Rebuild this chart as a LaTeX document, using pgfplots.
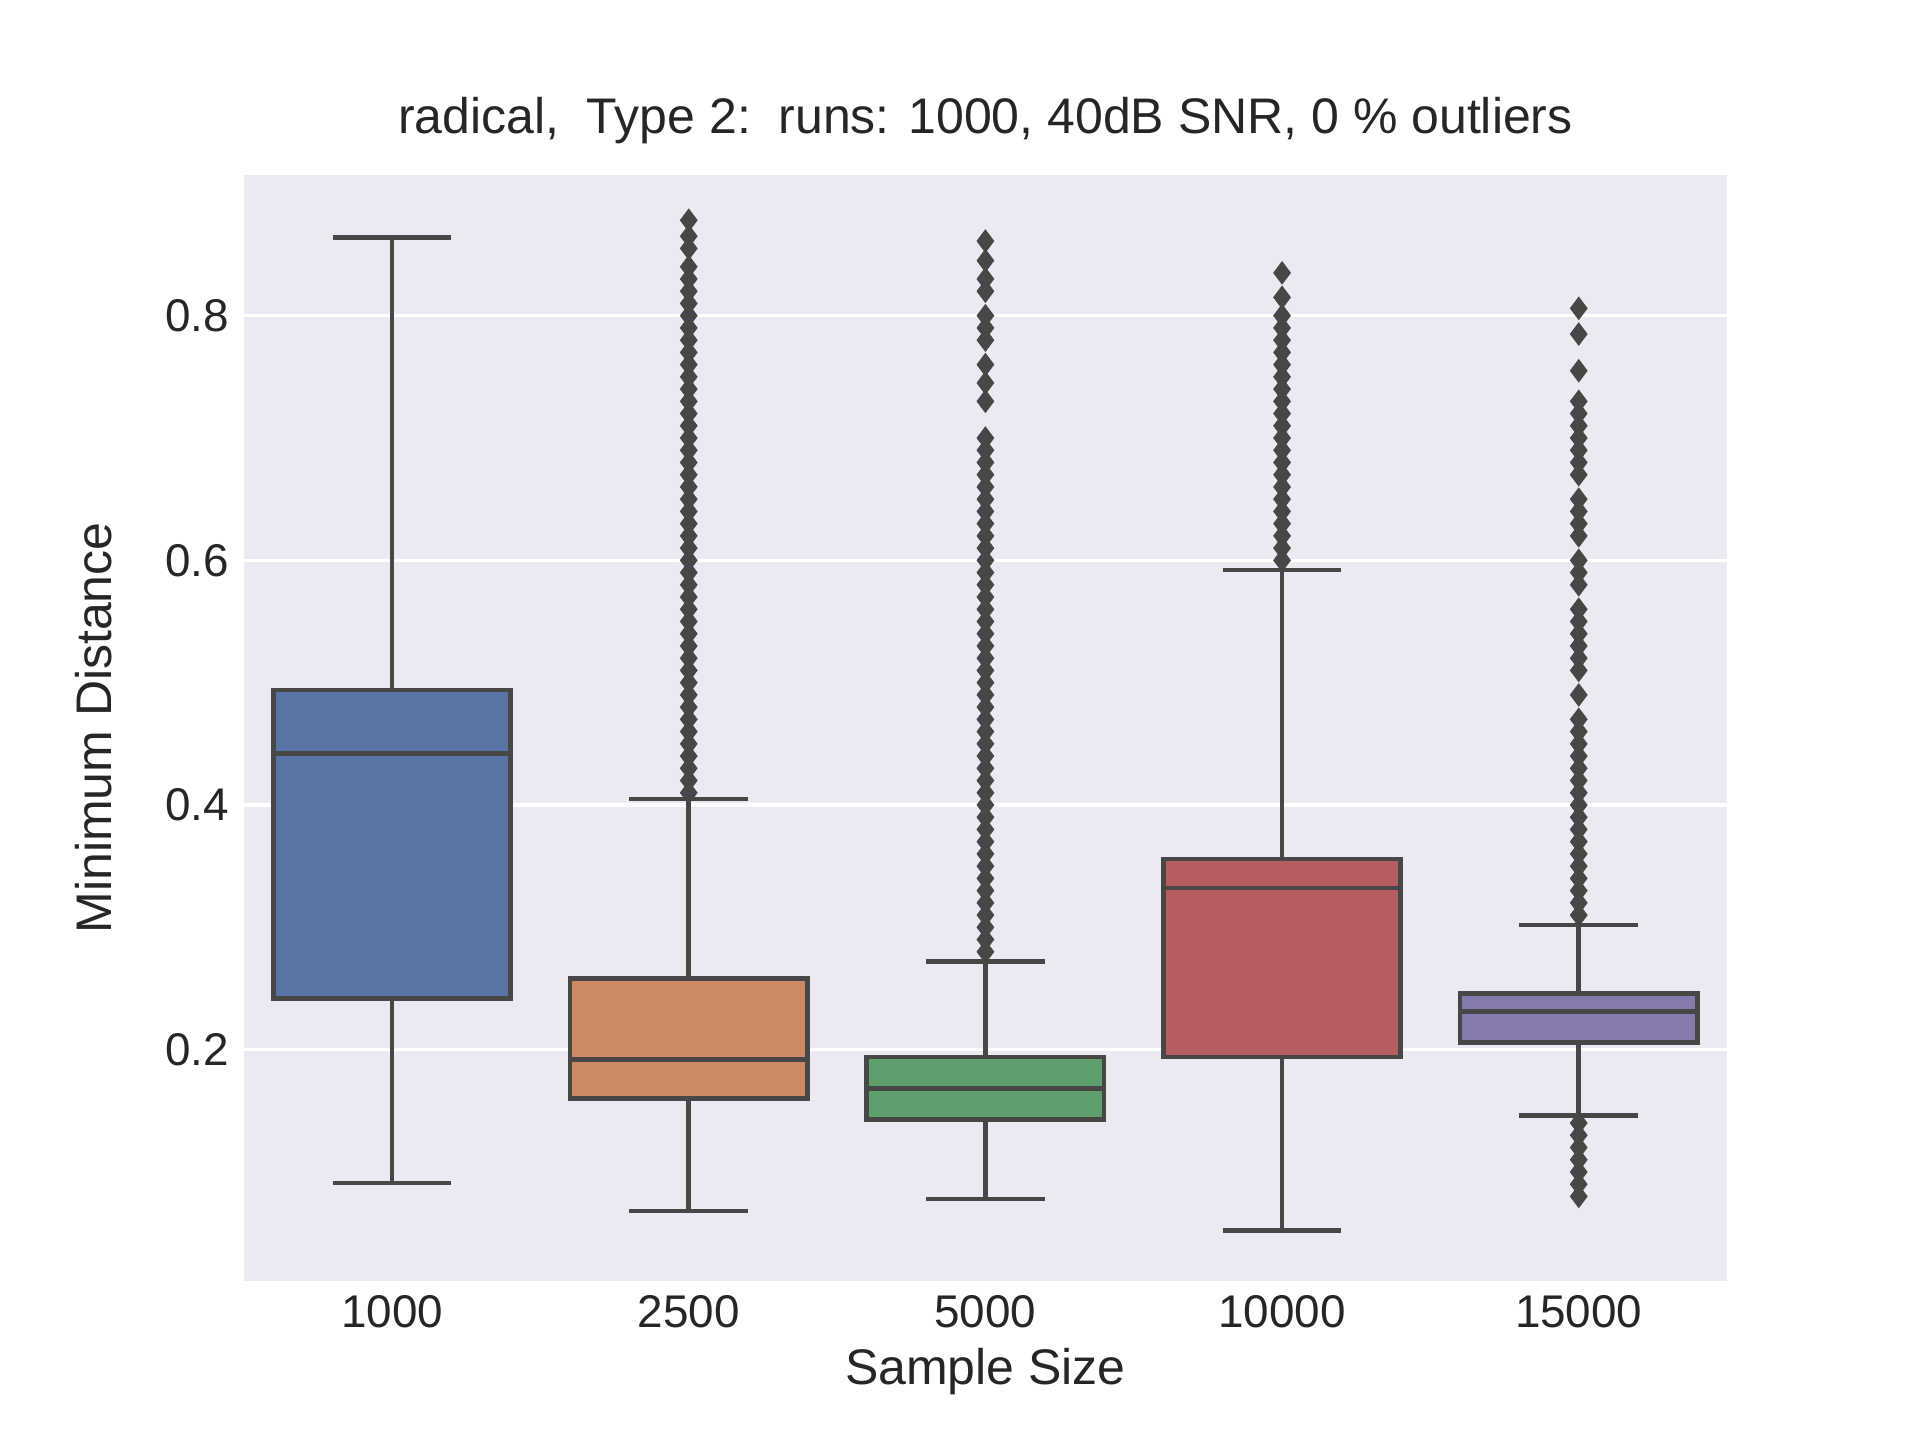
\documentclass[border=0pt]{standalone}
\usepackage{pgfplots}
\pgfplotsset{compat=1.18}
\usepgfplotslibrary{statistics}
\usepackage{fontspec}
\setmainfont{Liberation Sans}
\definecolor{bg}{HTML}{EAEAF2}
\definecolor{gl}{HTML}{474747}
\definecolor{c1}{HTML}{5975A4}
\definecolor{c2}{HTML}{CC8963}
\definecolor{c3}{HTML}{5F9E6E}
\definecolor{c4}{HTML}{B55D60}
\definecolor{c5}{HTML}{857AAB}
\begin{document}
\begin{tikzpicture}
\useasboundingbox (-58.5pt,-38.2pt) rectangle (402.3pt,307.4pt);
\begin{axis}[
  at={(0,0)}, anchor=south west, scale only axis,
  width=356pt, height=265.4pt,
  xmin=0.5, xmax=5.5, ymin=0.011, ymax=0.915,
  axis background/.style={fill=bg}, axis line style={draw=none},
  xtick={1,2,3,4,5}, xticklabels={1000,2500,5000,10000,15000},
  ytick={0.2,0.4,0.6,0.8},
  /pgf/number format/assume math mode=true,
  /pgf/number format/fixed, /pgf/number format/precision=1,
  yticklabel style={/pgf/number format/fixed zerofill},
  ymajorgrids, grid style={white, line width=0.8pt},
  major tick length=0pt,
  tick label style={font=\fontsize{11}{13}\selectfont, text=black!85},
  label style={font=\fontsize{12}{14}\selectfont, text=black!85},
  xlabel={Sample Size}, ylabel={Minimum Distance},
  xlabel style={yshift=2pt},
  ylabel style={yshift=6pt},
  title={radical,\ \ Type 2:\ \ runs: 1000, 40dB SNR, 0 \% outliers},
  title style={font=\fontsize{12}{14}\selectfont, text=black!85, yshift=-2pt},
  boxplot/draw direction=y,
  boxplot/box extend=0.8, boxplot/whisker extend=0.4,
  every axis plot/.append style={draw=gl, line width=1.1pt, mark=diamond*,
     mark options={fill=gl, draw=gl, line width=0.3pt, mark size=2.6pt}},
]
\addplot[fill=c1, boxplot prepared={draw position=1, lower whisker=0.091, lower quartile=0.242, median=0.442, upper quartile=0.494, upper whisker=0.864}] coordinates {};
\addplot[fill=c2, boxplot prepared={draw position=2, lower whisker=0.068, lower quartile=0.160, median=0.192, upper quartile=0.258, upper whisker=0.405}] table[row sep=\\, y index=0] {data\\
0.41\\0.42\\0.43\\0.44\\0.45\\0.46\\0.47\\0.48\\0.49\\0.50\\0.51\\0.52\\0.53\\0.54\\0.55\\0.56\\0.57\\0.58\\0.59\\0.60\\0.61\\0.62\\0.63\\0.64\\0.65\\0.66\\0.67\\0.68\\0.69\\0.70\\0.71\\0.72\\0.73\\0.74\\0.75\\0.76\\0.77\\0.78\\0.79\\0.80\\0.81\\0.82\\0.83\\0.84\\0.855\\0.865\\0.878\\};
\addplot[fill=c3, boxplot prepared={draw position=3, lower whisker=0.078, lower quartile=0.143, median=0.168, upper quartile=0.194, upper whisker=0.272}] table[row sep=\\, y index=0] {data\\
0.28\\0.29\\0.30\\0.31\\0.32\\0.33\\0.34\\0.35\\0.36\\0.37\\0.38\\0.39\\0.40\\0.41\\0.42\\0.43\\0.44\\0.45\\0.46\\0.47\\0.48\\0.49\\0.50\\0.51\\0.52\\0.53\\0.54\\0.55\\0.56\\0.57\\0.58\\0.59\\0.60\\0.61\\0.62\\0.63\\0.64\\0.65\\0.66\\0.67\\0.68\\0.69\\0.70\\0.73\\0.745\\0.76\\0.78\\0.79\\0.80\\0.82\\0.83\\0.845\\0.861\\};
\addplot[fill=c4, boxplot prepared={draw position=4, lower whisker=0.052, lower quartile=0.194, median=0.332, upper quartile=0.356, upper whisker=0.592}] table[row sep=\\, y index=0] {data\\
0.60\\0.61\\0.62\\0.63\\0.64\\0.65\\0.66\\0.67\\0.68\\0.69\\0.70\\0.71\\0.72\\0.73\\0.74\\0.75\\0.76\\0.77\\0.78\\0.79\\0.80\\0.815\\0.835\\};
\addplot[fill=c5, boxplot prepared={draw position=5, lower whisker=0.146, lower quartile=0.206, median=0.231, upper quartile=0.246, upper whisker=0.302}] table[row sep=\\, y index=0] {data\\
0.08\\0.09\\0.10\\0.11\\0.12\\0.13\\0.14\\
0.31\\0.32\\0.33\\0.34\\0.35\\0.36\\0.37\\0.38\\0.39\\0.40\\0.41\\0.42\\0.43\\0.44\\0.45\\0.46\\0.47\\0.49\\0.51\\0.52\\0.53\\0.54\\0.55\\0.56\\0.58\\0.59\\0.60\\0.62\\0.63\\0.64\\0.65\\0.67\\0.68\\0.69\\0.70\\0.71\\0.72\\0.73\\0.755\\0.785\\0.806\\};
\end{axis}
\end{tikzpicture}
\end{document}
